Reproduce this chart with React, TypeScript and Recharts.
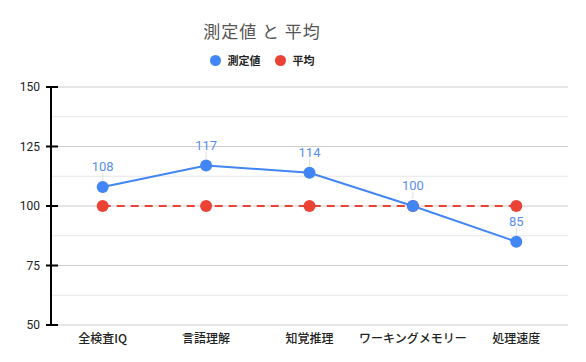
import { LineChart, Line, XAxis, YAxis, CartesianGrid, Legend } from 'recharts';

const categories = ['全検査IQ', '言語理解', '知覚推理', 'ワーキングメモリー', '処理速度'];
const measured = [108, 117, 114, 100, 85];
const average = [100, 100, 100, 100, 100];
const yTicks = [50, 75, 100, 125, 150];
const minorTicks = [62.5, 87.5, 112.5, 137.5];

const BLUE = '#4285F4';
const RED = '#EA4335';
const FONT = '"Noto Sans CJK JP", Roboto, sans-serif';

const data = categories.map((name, i) => ({ name, measured: measured[i], average: average[i] }));

function YTick(props: any) {
  const { x, y, payload } = props;
  return (
    <g>
      <line x1={x + 5} x2={x + 17} y1={y} y2={y} stroke="#000" strokeWidth={2} />
      <text x={x - 1} y={y} dy={4} textAnchor="end" fontSize={12} fill="#222" fontFamily="Roboto, sans-serif">
        {payload.value}
      </text>
    </g>
  );
}

function ValueLabel(props: any) {
  const { x, y, value } = props;
  return (
    <g>
      <line x1={x} x2={x} y1={y - 14} y2={y - 7} stroke="#ddd" strokeWidth={1} />
      <text x={x} y={y - 16} textAnchor="middle" fontSize={13} fill="#5b8def" fontFamily="Roboto, sans-serif">
        {value}
      </text>
    </g>
  );
}

function LegendContent() {
  const items = [
    { label: '測定値', color: BLUE },
    { label: '平均', color: RED },
  ];
  return (
    <div style={{ display: 'flex', justifyContent: 'center', alignItems: 'center', gap: 14, paddingRight: 62 }}>
      {items.map((it) => (
        <div key={it.label} style={{ display: 'flex', alignItems: 'center', gap: 7 }}>
          <span style={{ width: 11, height: 11, borderRadius: '50%', background: it.color, display: 'inline-block' }} />
          <span style={{ fontSize: 11, fontWeight: 700, color: '#222', fontFamily: FONT }}>{it.label}</span>
        </div>
      ))}
    </div>
  );
}

export default function App() {
  return (
    <div style={{ position: 'absolute', left: 0, top: 0, width: 586, height: 362, background: '#fff' }}>
      <div
        style={{
          position: 'absolute',
          top: 18,
          left: 0,
          width: 524,
          textAlign: 'center',
          fontSize: 17,
          color: '#555',
          fontFamily: FONT,
          letterSpacing: 1,
        }}
      >
        測定値 と 平均
      </div>
      <LineChart width={586} height={362} data={data} margin={{ top: 87, right: 18, bottom: 7, left: 0 }}>
        <CartesianGrid vertical={false} horizontalValues={minorTicks} stroke="#e6e6e6" />
        <CartesianGrid vertical={false} horizontalValues={yTicks} stroke="#cccccc" />
        <XAxis
          dataKey="name"
          scale="band"
          axisLine={false}
          tickLine={false}
          tickMargin={3}
          tick={{ fontSize: 12, fill: '#222', fontFamily: FONT, fontWeight: 500 }}
          interval={0}
        />
        <YAxis
          domain={[50, 150]}
          ticks={yTicks}
          width={51}
          tickLine={false}
          tickSize={6}
          tickMargin={4}
          axisLine={{ stroke: '#000', strokeWidth: 2 }}
          tick={<YTick />}
        />
        <Legend verticalAlign="middle" wrapperStyle={{ top: 52, left: 0, width: 586 }} content={<LegendContent />} />
        <Line
          dataKey="average"
          name="平均"
          stroke={RED}
          strokeWidth={2}
          strokeDasharray="8 6"
          dot={{ r: 6, fill: RED, stroke: RED, strokeWidth: 0 }}
          isAnimationActive={false}
        />
        <Line
          dataKey="measured"
          name="測定値"
          stroke={BLUE}
          strokeWidth={2}
          dot={{ r: 6, fill: BLUE, stroke: BLUE, strokeWidth: 0 }}
          label={<ValueLabel />}
          isAnimationActive={false}
        />
      </LineChart>
    </div>
  );
}
